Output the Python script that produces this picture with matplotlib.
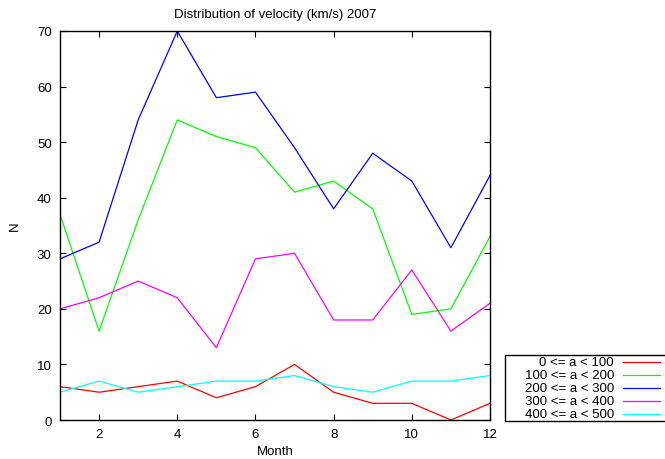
import matplotlib.pyplot as plt
from matplotlib.lines import Line2D

plt.rcParams['font.family'] = ['Liberation Sans', 'DejaVu Sans']
plt.rcParams['font.size'] = 9.5

# monthly counts per velocity band
months = list(range(1, 13))
band_0_100 = [6, 5, 6, 7, 4, 6, 10, 5, 3, 3, 0, 3]
band_100_200 = [37, 16, 36, 54, 51, 49, 41, 43, 38, 19, 20, 33]
band_200_300 = [29, 32, 54, 70, 58, 59, 49, 38, 48, 43, 31, 44]
band_300_400 = [20, 22, 25, 22, 13, 29, 30, 18, 18, 27, 16, 21]
band_400_500 = [5, 7, 5, 6, 7, 7, 8, 6, 5, 7, 7, 8]

labels = ['0 <= a < 100', '100 <= a < 200', '200 <= a < 300',
          '300 <= a < 400', '400 <= a < 500']
series = [band_0_100, band_100_200, band_200_300, band_300_400, band_400_500]
colors = ['#ff0000', '#00ff00', '#0000ff', '#ff00ff', '#00ffff']

W, H = 665, 460
fig = plt.figure(figsize=(W / 100, H / 100), dpi=100)
ax = fig.add_axes([60 / W, 1 - 421 / H, 430 / W, 389 / H])

for vals, c in zip(series, colors):
    ax.plot(months, vals, color=c, lw=0.9)

ax.set_xlim(1, 12)
ax.set_ylim(0, 70)
ax.set_xticks(range(2, 13, 2))
ax.set_yticks(range(0, 71, 10))
ax.tick_params(direction='in', length=4, width=0.8, top=True, right=True,
               pad=6, colors='black')
for s in ax.spines.values():
    s.set_linewidth(1.0)

ax.set_title('Distribution of velocity (km/s) 2007', fontsize=9.5, pad=10)
ax.set_xlabel('Month', va='center')
ax.xaxis.set_label_coords(0.5, (421 - 452) / 389)
ax.set_ylabel('N', va='center')
ax.yaxis.set_label_coords((15 - 60) / 430, 0.5)

# legend box outside the plot, bottom right
fig.patches.append(plt.Rectangle((505.5 / W, 1 - 421.5 / H), 200 / W, 66 / H,
                                 transform=fig.transFigure, fill=False,
                                 edgecolor='black', lw=1.0))
row_y = [362.7, 375.7, 388.7, 401.7, 414.7]
for lab, c, y in zip(labels, colors, row_y):
    fy = 1 - y / H
    fig.text(614 / W, fy, lab, ha='right', va='center', fontsize=9.5)
    fig.lines.append(Line2D([623 / W, 660 / W], [fy, fy], color=c, lw=0.9,
                            transform=fig.transFigure))

fig.savefig('out.png', dpi=100)
